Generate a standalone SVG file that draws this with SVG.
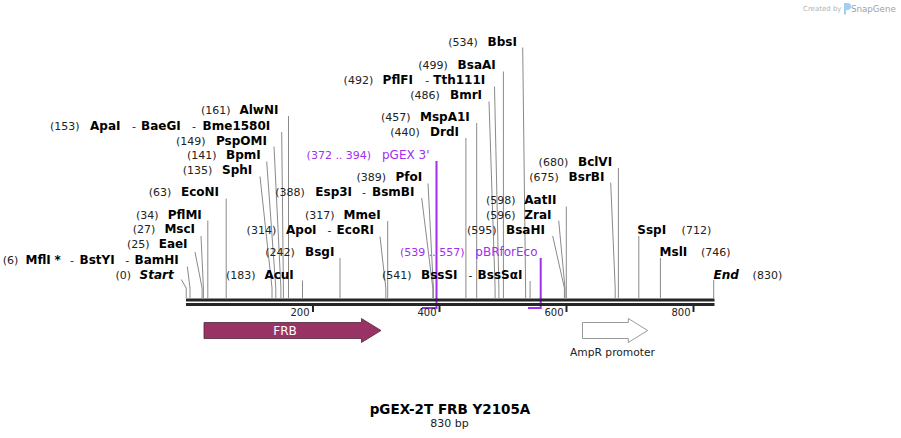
<svg xmlns="http://www.w3.org/2000/svg" width="901" height="438" viewBox="0 0 901 438">
<style>
text{font-family:"DejaVu Sans","Verdana",sans-serif;fill:#000}
.n{font-size:11px;fill:#222}
.b{font-size:12px;font-weight:bold}
.bi{font-size:12px;font-weight:bold;font-style:italic}
.d{font-size:11px;fill:#222}
.p{font-size:11px;fill:#a02ff0}
.pn{font-size:12px;fill:#a02ff0}
.ld{fill:none;stroke:#8a8a8a;stroke-width:1}
.pr{fill:none;stroke:#a02ff0;stroke-width:2}
.bb{fill:#262626}
.tk{stroke:#262626;stroke-width:2}
.tl{font-size:10px;fill:#222;text-anchor:end}
</style>
<rect width="901" height="438" fill="#fff"/>
<g id="watermark">
<text x="803" y="11" style="font-size:7px;fill:#b4b4b4">Created by</text>
<path d="M844,3 h3.5 a3,3 0 0 1 0,7 h-1.5 v4.5 h-2 z" fill="#9fd0f2"/>
<text x="851" y="12" style="font-size:8.7px;fill:#9aa2aa">SnapGene</text>
</g>
<g id="connectors">
<polyline class="ld" points="181.3,279.5 186.2,288 186.2,298"/>
<polyline class="ld" points="187.3,266.5 190,288 190,298"/>
<polyline class="ld" points="195,252 202.1,288 202.1,298"/>
<polyline class="ld" points="201,236 203.4,288 203.4,298"/>
<polyline class="ld" points="207.8,220.5 207.8,298"/>
<polyline class="ld" points="226.2,198.5 226.2,298"/>
<polyline class="ld" points="260,176.5 272,288 272,298"/>
<polyline class="ld" points="266.7,161.5 275.8,288 275.8,298"/>
<polyline class="ld" points="274,146.5 280.9,288 280.9,298"/>
<polyline class="ld" points="281.7,132 283.4,288 283.4,298"/>
<polyline class="ld" points="288.5,116 288.5,298"/>
<polyline class="ld" points="302.5,280.5 302.5,298"/>
<polyline class="ld" points="340,258 340,298"/>
<polyline class="ld" points="380,236.5 385.8,288 385.8,298"/>
<polyline class="ld" points="387.7,221 387.7,298"/>
<polyline class="ld" points="421.7,198 432.8,288 432.8,298"/>
<polyline class="ld" points="428,183.5 433.4,288 433.4,298"/>
<polyline class="ld" points="465.9,138 465.9,298"/>
<polyline class="ld" points="476.7,123 476.7,298"/>
<polyline class="ld" points="489,101.5 495.1,288 495.1,298"/>
<polyline class="ld" points="494.5,86.5 498.9,288 498.9,298"/>
<polyline class="ld" points="503.4,71.5 503.4,298"/>
<polyline class="ld" points="522.7,47.5 525.6,288 525.6,298"/>
<polyline class="ld" points="530.1,281 530.1,298"/>
<polyline class="ld" points="566.3,206.5 566.3,298"/>
<polyline class="ld" points="558.7,220.7 565,288 565,298"/>
<polyline class="ld" points="552.7,236 564.4,288 564.4,298"/>
<polyline class="ld" points="618.4,168 618.4,298"/>
<polyline class="ld" points="610.7,182.7 615.2,288 615.2,298"/>
<polyline class="ld" points="638.8,236 638.8,298"/>
<polyline class="ld" points="660.4,258 660.4,298"/>
<polyline class="ld" points="713.7,280 713.7,298"/>
<polyline class="pr" points="436.5,161 436.5,308 422,308"/>
<polyline class="pr" points="540.7,258 540.7,308 528,308"/>
</g>
<g id="backbone">
<rect class="bb" x="186" y="298.5" width="528.5" height="3"/>
<rect class="bb" x="186" y="303" width="528.5" height="3"/>
<line class="tk" x1="313" y1="305" x2="313" y2="312"/>
<line class="tk" x1="439.5" y1="305" x2="439.5" y2="312"/>
<line class="tk" x1="566.5" y1="305" x2="566.5" y2="312"/>
<line class="tk" x1="693.5" y1="305" x2="693.5" y2="312"/>
<text class="tl" x="309.5" y="315.5">200</text>
<text class="tl" x="436.5" y="315.5">400</text>
<text class="tl" x="563.5" y="315.5">600</text>
<text class="tl" x="690.5" y="315.5">800</text>
</g>
<g id="site-Start"><text y="279.3"><tspan class="n" x="115.5">(0)</tspan><tspan class="bi" x="139.5">Start</tspan></text></g>
<g id="site-MflI"><text y="263.8"><tspan class="n" x="2.7">(6)</tspan><tspan class="b" x="25.5">MflI</tspan><tspan class="b" x="54.5">*</tspan><tspan class="n" x="70">-</tspan><tspan class="b" x="79.5">BstYI</tspan><tspan class="n" x="125.3">-</tspan><tspan class="b" x="134.5">BamHI</tspan></text></g>
<g id="site-EaeI"><text y="248.3"><tspan class="n" x="127">(25)</tspan><tspan class="b" x="158.7">EaeI</tspan></text></g>
<g id="site-MscI"><text y="233.3"><tspan class="n" x="132.7">(27)</tspan><tspan class="b" x="164.4">MscI</tspan></text></g>
<g id="site-PflMI"><text y="218.8"><tspan class="n" x="136">(34)</tspan><tspan class="b" x="167.7">PflMI</tspan></text></g>
<g id="site-EcoNI"><text y="196.3"><tspan class="n" x="148.7">(63)</tspan><tspan class="b" x="181">EcoNI</tspan></text></g>
<g id="site-SphI"><text y="174.3"><tspan class="n" x="182.7">(135)</tspan><tspan class="b" x="222">SphI</tspan></text></g>
<g id="site-BpmI"><text y="159.3"><tspan class="n" x="187">(141)</tspan><tspan class="b" x="226">BpmI</tspan></text></g>
<g id="site-PspOMI"><text y="144.8"><tspan class="n" x="176">(149)</tspan><tspan class="b" x="216">PspOMI</tspan></text></g>
<g id="site-ApaI"><text y="130.3"><tspan class="n" x="50">(153)</tspan><tspan class="b" x="90">ApaI</tspan><tspan class="n" x="132">-</tspan><tspan class="b" x="141">BaeGI</tspan><tspan class="n" x="192">-</tspan><tspan class="b" x="202.6">Bme1580I</tspan></text></g>
<g id="site-AlwNI"><text y="114.3"><tspan class="n" x="201">(161)</tspan><tspan class="b" x="239.4">AlwNI</tspan></text></g>
<g id="site-AcuI"><text y="279.3"><tspan class="n" x="226">(183)</tspan><tspan class="b" x="264.4">AcuI</tspan></text></g>
<g id="site-BsgI"><text y="256.3"><tspan class="n" x="265.3">(242)</tspan><tspan class="b" x="305">BsgI</tspan></text></g>
<g id="site-ApoI"><text y="234.3"><tspan class="n" x="246.6">(314)</tspan><tspan class="b" x="286">ApoI</tspan><tspan class="n" x="327.4">-</tspan><tspan class="b" x="336.6">EcoRI</tspan></text></g>
<g id="site-MmeI"><text y="218.8"><tspan class="n" x="305">(317)</tspan><tspan class="b" x="343.6">MmeI</tspan></text></g>
<g id="site-Esp3I"><text y="195.8"><tspan class="n" x="275.3">(388)</tspan><tspan class="b" x="315.3">Esp3I</tspan><tspan class="n" x="362">-</tspan><tspan class="b" x="372">BsmBI</tspan></text></g>
<g id="site-PfoI"><text y="181.3"><tspan class="n" x="356.5">(389)</tspan><tspan class="b" x="395.5">PfoI</tspan></text></g>
<g id="primer-pGEX3"><text y="159.3"><tspan class="p" x="306.6">(372 .. 394)</tspan><tspan class="pn" x="382">pGEX 3'</tspan></text></g>
<g id="site-DrdI"><text y="136"><tspan class="n" x="390.3">(440)</tspan><tspan class="b" x="430">DrdI</tspan></text></g>
<g id="site-MspA1I"><text y="121"><tspan class="n" x="381">(457)</tspan><tspan class="b" x="420">MspA1I</tspan></text></g>
<g id="site-BmrI"><text y="99.3"><tspan class="n" x="410.3">(486)</tspan><tspan class="b" x="450">BmrI</tspan></text></g>
<g id="site-PflFI"><text y="83.6"><tspan class="n" x="343.6">(492)</tspan><tspan class="b" x="382.6">PflFI</tspan><tspan class="n" x="425.3">-</tspan><tspan class="b" x="433.3">Tth111I</tspan></text></g>
<g id="site-BsaAI"><text y="69.3"><tspan class="n" x="418.3">(499)</tspan><tspan class="b" x="457.6">BsaAI</tspan></text></g>
<g id="site-BbsI"><text y="45.6"><tspan class="n" x="448.3">(534)</tspan><tspan class="b" x="487.6">BbsI</tspan></text></g>
<g id="site-BssSI"><text y="279"><tspan class="n" x="382">(541)</tspan><tspan class="b" x="421">BssSI</tspan><tspan class="n" x="468.6">-</tspan><tspan class="b" x="477.6">BssSαI</tspan></text></g>
<g id="primer-pBRforEco"><text y="256.3"><tspan class="p" x="400">(539 .. 557)</tspan><tspan class="pn" x="475.3">pBRforEco</tspan></text></g>
<g id="site-AatII"><text y="204.3"><tspan class="n" x="486">(598)</tspan><tspan class="b" x="524.3">AatII</tspan></text></g>
<g id="site-ZraI"><text y="219.3"><tspan class="n" x="486">(596)</tspan><tspan class="b" x="524.3">ZraI</tspan></text></g>
<g id="site-BsaHI"><text y="234.3"><tspan class="n" x="467">(595)</tspan><tspan class="b" x="506">BsaHI</tspan></text></g>
<g id="site-BclVI"><text y="166"><tspan class="n" x="538.6">(680)</tspan><tspan class="b" x="578">BclVI</tspan></text></g>
<g id="site-BsrBI"><text y="181"><tspan class="n" x="529.3">(675)</tspan><tspan class="b" x="568.6">BsrBI</tspan></text></g>
<g id="site-SspI"><text y="234.3"><tspan class="b" x="637.3">SspI</tspan><tspan class="n" x="681.6">(712)</tspan></text></g>
<g id="site-MslI"><text y="256.3"><tspan class="b" x="659.6">MslI</tspan><tspan class="n" x="701">(746)</tspan></text></g>
<g id="site-End"><text y="279.3"><tspan class="bi" x="713.6">End</tspan><tspan class="n" x="752.6">(830)</tspan></text></g>
<g id="feature-FRB">
<polygon points="204,322.5 361.5,322.5 361.5,318.5 381,330.5 361.5,342.5 361.5,338.5 204,338.5" fill="#993366" stroke="#4a2a3a" stroke-width="0.8"/>
<text x="285" y="334.5" text-anchor="middle" style="font-size:12px;fill:#fff">FRB</text>
</g>
<g id="feature-AmpR">
<polygon points="582.5,322.5 628.3,322.5 628.3,318.5 647.7,330.5 628.3,342.5 628.3,338.5 582.5,338.5" fill="#fff" stroke="#808080" stroke-width="0.8"/>
<text x="612.5" y="355.5" text-anchor="middle" style="font-size:10.7px;fill:#222">AmpR promoter</text>
</g>
<g id="title">
<text x="450" y="413.5" text-anchor="middle" style="font-size:13.5px;font-weight:bold">pGEX-2T FRB Y2105A</text>
<text x="449.5" y="427" text-anchor="middle" style="font-size:11px;fill:#222">830 bp</text>
</g>
</svg>
